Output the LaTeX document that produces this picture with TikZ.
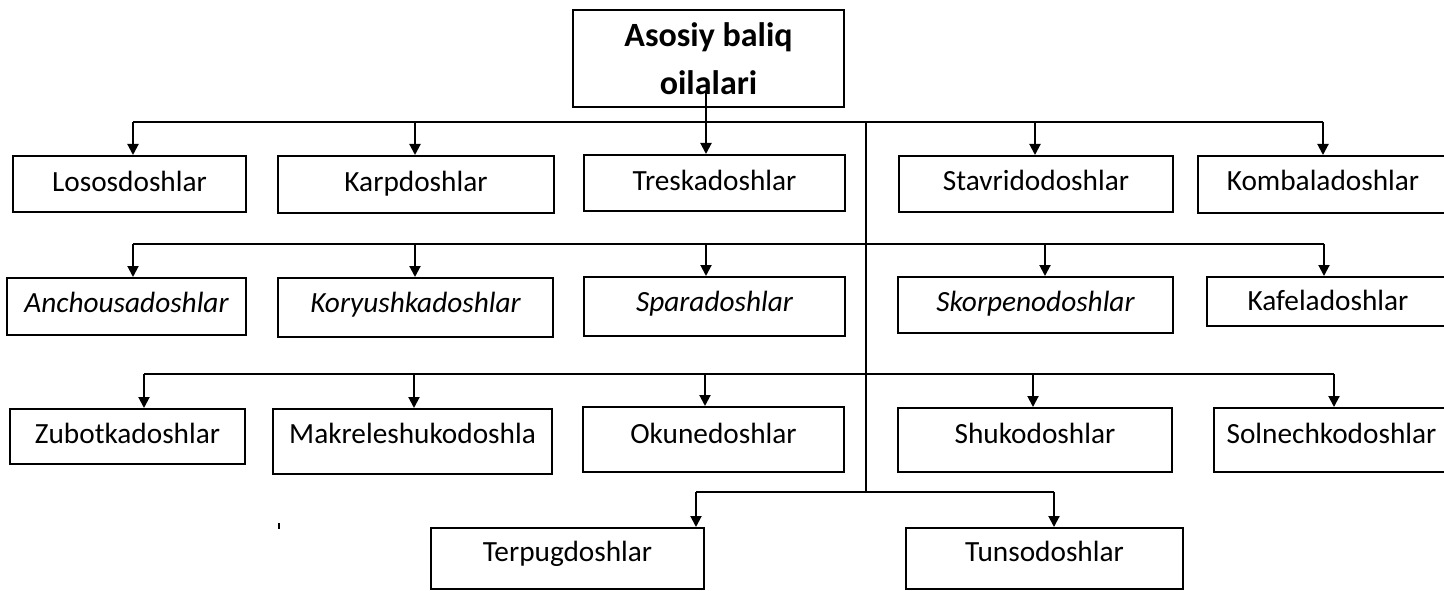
\documentclass[tikz,border=0pt]{standalone}
\usepackage{fontspec}
\setmainfont{Carlito}
\usetikzlibrary{arrows.meta}
\newcommand\famfont{\fontsize{29.3}{34}\selectfont}
\newcommand\headfont{\fontsize{34}{42}\selectfont\bfseries}
\begin{document}
\begin{tikzpicture}[x=1pt,y=-1pt,
  line width=2pt,
  fam/.style={draw, inner sep=0pt, anchor=north west, font=\famfont},
  it/.style={font=\famfont\itshape},
  arr/.style={-{Triangle[length=11pt,width=11pt]}},
  head/.style={draw, inner sep=0pt, minimum width=271pt, minimum height=97pt,
    align=center, font=\headfont}]
\useasboundingbox (0,0) rectangle (1444,591);

% root
\node[head] (root) at (708.5,58.5) {Asosiy baliq\\[6pt]oilalari};

% first row of families
\node[fam, minimum width=233pt, text height=36pt, text depth=20pt] (los) at (12,155) {Lososdoshlar};
\node[fam, minimum width=276pt, text height=36pt, text depth=21pt] (karp) at (277,155) {Karpdoshlar};
\node[fam, minimum width=261pt, text height=36pt, text depth=20pt] (tres) at (583,154) {Treskadoshlar};
\node[fam, minimum width=274pt, text height=35pt, text depth=21pt] (stav) at (898,155) {Stavridodoshlar};
\node[fam, minimum width=250pt, text height=34pt, text depth=23pt] (komb) at (1197,155) {Kombaladoshlar};

% second row
\node[fam, it, minimum width=239pt, text height=34pt, text depth=23pt] (anch) at (6,277) {Anchousadoshlar};
\node[fam, it, minimum width=275pt, text height=34pt, text depth=25pt] (kor) at (277,277) {Koryushkadoshlar};
\node[fam, it, minimum width=261pt, text height=34pt, text depth=25pt] (spar) at (583,276) {Sparadoshlar};
\node[fam, it, minimum width=275pt, text height=34pt, text depth=22pt] (skor) at (897,276) {Skorpenodoshlar};
\node[fam, minimum width=242pt, text height=33pt, text depth=16pt] (kaf) at (1206,276) {Kafeladoshlar};

% third row
\node[fam, minimum width=235pt, text height=34pt, text depth=21pt] (zub) at (9,408) {Zubotkadoshlar};
\node[fam, minimum width=279pt, text height=34pt, text depth=31pt] (mak) at (272,408) {Makreleshukodoshla};
\node[fam, minimum width=261pt, text height=36pt, text depth=29pt] (oku) at (582,406) {Okunedoshlar};
\node[fam, minimum width=274pt, text height=35pt, text depth=29pt] (shuk) at (897,407) {Shukodoshlar};
\node[fam, minimum width=235pt, text height=35pt, text depth=29pt] (soln) at (1213,407) {Solnechkodoshlar};

% fourth row
\node[fam, minimum width=273pt, text height=33pt, text depth=28pt] (terp) at (430,527) {Terpugdoshlar};
\node[fam, minimum width=277pt, text height=33pt, text depth=28pt] (tuns) at (905,527) {Tunsodoshlar};

% bus lines and the central trunk
\coordinate (a1) at (133,122);  \coordinate (a2) at (415,122);
\coordinate (a4) at (1035,122); \coordinate (a5) at (1323,122);
\coordinate (b1) at (133,244);  \coordinate (b2) at (415,244);
\coordinate (b3) at (706,244);  \coordinate (b4) at (1045,244);
\coordinate (b5) at (1324,244);
\coordinate (c1) at (144,374);  \coordinate (c2) at (414,374);
\coordinate (c3) at (705,374);  \coordinate (c4) at (1033,374);
\coordinate (c5) at (1334,374);
\coordinate (d1) at (696,492);  \coordinate (d2) at (1054,492);
\coordinate (trunktop) at (866,122);
\coordinate (trunkbot) at (866,492);
\coordinate (rootout) at (706,92);

\draw (a1) -- (a5);
\draw (b1) -- (b5);
\draw (c1) -- (c5);
\draw (d1) -- (d2);
\draw (trunktop) -- (trunkbot);

% arrows into the families
\draw[arr] (rootout) -- (rootout |- tres.north);
\draw[arr] (a1) -- (a1 |- los.north);
\draw[arr] (a2) -- (a2 |- karp.north);
\draw[arr] (a4) -- (a4 |- stav.north);
\draw[arr] (a5) -- (a5 |- komb.north);
\draw[arr] (b1) -- (b1 |- anch.north);
\draw[arr] (b2) -- (b2 |- kor.north);
\draw[arr] (b3) -- (b3 |- spar.north);
\draw[arr] (b4) -- (b4 |- skor.north);
\draw[arr] (b5) -- (b5 |- kaf.north);
\draw[arr] (c1) -- (c1 |- zub.north);
\draw[arr] (c2) -- (c2 |- mak.north);
\draw[arr] (c3) -- (c3 |- oku.north);
\draw[arr] (c4) -- (c4 |- shuk.north);
\draw[arr] (c5) -- (c5 |- soln.north);
\draw[arr] (d1) -- (d1 |- terp.north);
\draw[arr] (d2) -- (d2 |- tuns.north);

% small stray tick
\draw (279,523) -- (279,529);
\end{tikzpicture}
\end{document}
